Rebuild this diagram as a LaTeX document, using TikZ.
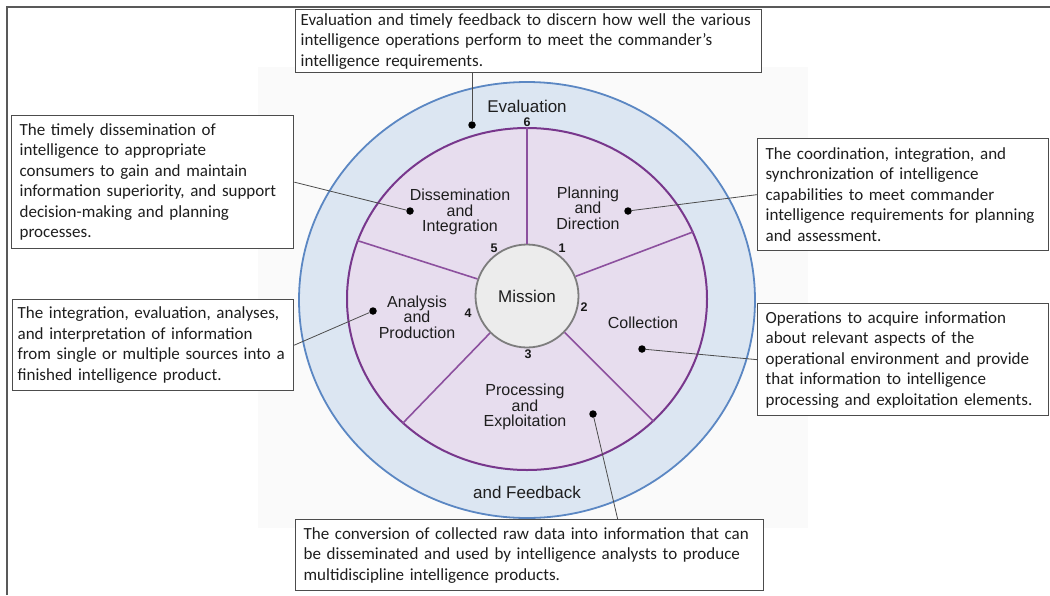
\documentclass[tikz,border=0pt]{standalone}
\usepackage{fontspec}
\setmainfont{Carlito}
\newfontfamily\arial{Liberation Sans}
\usetikzlibrary{shapes.geometric}
\definecolor{ringblue}{RGB}{220,230,242}
\definecolor{ringedge}{RGB}{91,135,195}
\definecolor{sectfill}{RGB}{231,221,238}
\definecolor{sectedge}{RGB}{120,55,140}
\definecolor{spokecol}{RGB}{140,80,158}
\definecolor{missfill}{RGB}{236,236,236}
\definecolor{missedge}{RGB}{125,125,125}
\definecolor{txt}{RGB}{30,30,30}
\begin{document}
\begin{tikzpicture}[x=1pt, y=-1pt,
    note/.style={draw=black!70, line width=1.3pt, fill=white, anchor=north west,
      align=left, inner xsep=8pt, inner ysep=2pt, text=txt,
      font=\fontsize{17}{20.5}\selectfont},
    seg/.style={align=center, text=txt, font=\arial\fontsize{16}{15.5}\selectfont},
    big/.style={text=txt, font=\arial\fontsize{17}{17}\selectfont},
    num/.style={text=black!90, inner sep=0pt, font=\arial\bfseries\fontsize{12.5}{12.5}\selectfont},
    dot/.style={circle, fill=black, inner sep=0pt, minimum size=7.5pt},
    lead/.style={draw=black!70, line width=0.8pt},
    spoke/.style={draw=spokecol, line width=1.6pt}]
  \useasboundingbox (0,0) rectangle (1050,595);
  \fill[black!2] (258,67) rectangle (808,528);
  \draw[black!65, line width=1.8pt] (7,595) -- (7,7) -- (1050,7);
  % the wheel
  \node[ellipse, draw=ringedge, fill=ringblue, line width=1.8pt, inner sep=0pt,
        minimum width=456pt, minimum height=436pt] (ring) at (527,300) {};
  \node[ellipse, draw=sectedge, fill=sectfill, line width=2pt, inner sep=0pt,
        minimum width=360pt, minimum height=342pt] (wheel) at (527,299) {};
  \node[circle, draw=missedge, fill=missfill, line width=1.8pt, inner sep=0pt,
        minimum size=103pt, big] (mission) at (527,296) {Mission};
  \foreach \a in {90,22,-44,-135,161}
     \draw[spoke] (mission.\a) -- (wheel.\a);
  \node[big] (evl) at (527,106) {Evaluation};
  \node[big] (fbk) at (527,492) {and Feedback};
  \node[seg] (plan) at (588,208) {Planning\\and\\Direction};
  \node[seg] (coll) at (643,323) {Collection};
  \node[seg] (proc) at (525,407) {Processing\\and\\Exploitation};
  \node[seg] (anal) at (417,317) {Analysis\\and\\Production};
  \node[seg] (diss) at (460,212) {Dissemination\\and\\Integration};
  \foreach \n/\x/\y in {1/562/248, 2/584/307, 3/528/354, 4/468/313, 5/494/248, 6/527/122}
     \node[num] (n\n) at (\x,\y) {\n};
  \foreach \d/\x/\y in {E/472/125, D/410/211, P/628/211, A/373/311, C/642/349, X/593/414}
     \node[dot] (dot\d) at (\x,\y) {};
  % the notes
  \node[note, text width=456pt, minimum height=63pt, inner xsep=5pt] (evalbox) at (295,9)
    {Evaluation and timely feedback to discern how well the various\\
     intelligence operations perform to meet the commander’s\\
     intelligence requirements.};
  \node[note, text width=266pt, minimum height=133pt] (dissbox) at (11,115)
    {The timely dissemination of\\ intelligence to appropriate\\
     consumers to gain and maintain\\ information superiority, and support\\
     decision-making and planning\\ processes.};
  \node[note, text width=271pt, minimum height=91pt, inner xsep=5pt] (anabox) at (12,299)
    {The integration, evaluation, analyses,\\ and interpretation of information\\
     from single or multiple sources into a\\ finished intelligence product.};
  \node[note, text width=275pt, minimum height=112pt] (planbox) at (757,138)
    {The coordination, integration, and\\ synchronization of intelligence\\
     capabilities to meet commander\\ intelligence requirements for planning\\
     and assessment.};
  \node[note, text width=275pt, minimum height=112pt] (collbox) at (757,303)
    {Operations to acquire information\\ about relevant aspects of the\\
     operational environment and provide\\ that information to intelligence\\
     processing and exploitation elements.};
  \node[note, text width=452pt, minimum height=71pt] (procbox) at (295,519)
    {The conversion of collected raw data into information that can\\
     be disseminated and used by intelligence analysts to produce\\
     multidiscipline intelligence products.};
  % leaders
  \draw[lead] (evalbox.south -| dotE) -- (dotE);
  \draw[lead] (dissbox.east) -- (dotD);
  \draw[lead] (anabox.east) -- (dotA);
  \draw[lead] (planbox.west) -- (dotP);
  \draw[lead] (collbox.west) -- (dotC);
  \draw[lead] ([xshift=88pt]procbox.north) -- (dotX);
\end{tikzpicture}
\end{document}
